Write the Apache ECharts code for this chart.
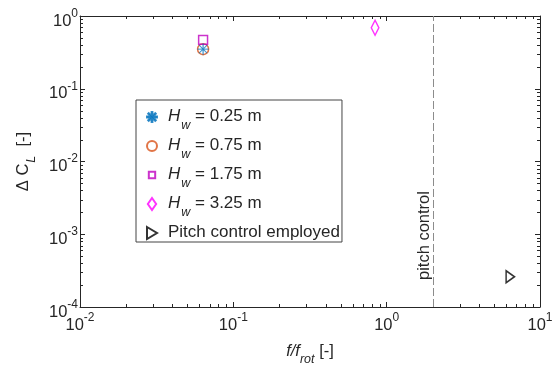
<!DOCTYPE html>
<html>
<head>
<meta charset="utf-8">
<script src="https://cdn.jsdelivr.net/npm/echarts@6/dist/echarts.min.js"></script>
<style>html,body{margin:0;padding:0;background:#fff}#c{width:558px;height:367px}</style>
</head>
<body>
<div id="c"></div>
<script>
// ---- data ----
const seriesNames = ['H_w = 0.25 m', 'H_w = 0.75 m', 'H_w = 1.75 m', 'H_w = 3.25 m', 'Pitch control employed'];
const hw025 = [[0.0635, 0.35]];
const hw075 = [[0.0635, 0.35]];
const hw175 = [[0.0635, 0.47]];
const hw325 = [[0.84, 0.69]];
const pitchEmployed = [[6.4, 2.6e-4]];
const pitchControlX = 2;
const xRange = [0.01, 10];
const yRange = [1e-4, 1];
const pitchLabel = 'pitch control';

// minor tick positions (2..9 within each decade)
function minorTicks(lo, hi) {
  const out = [];
  for (let d = lo; d < hi; d *= 10) {
    for (let k = 2; k <= 9; k++) out.push(+(k * d).toPrecision(3));
  }
  return out;
}
const xMinor = minorTicks(xRange[0], xRange[1]);
const yMinor = minorTicks(yRange[0], yRange[1]);

const TXT = '#262626';
const FONT = 'Liberation Sans';

const asterisk = 'path://M-0.8,-10H0.8V10H-0.8Z M-10,-0.8H10V0.8H-10Z M-7.6,-6.5L-6.5,-7.6L7.6,6.5L6.5,7.6Z M7.6,-6.5L6.5,-7.6L-7.6,6.5L-6.5,7.6Z';
const triRight = 'path://M0,0L10,6L0,12Z';
// square with a little empty margin (zero-length anchors) so the legend icon stays small
const squareSym = 'path://M2,2H9V9H2Z M0,0L0,0 M11,11L11,11';
const diamondSym = 'path://M4.5,0L9,6.5L4.5,13L0,6.5Z';

function powLabel(v) {
  const e = Math.round(Math.log10(v));
  return '{b|10}{s|' + e + '}';
}
const powRich = {
  b: { fontFamily: FONT, fontSize: 16.5, color: TXT, lineHeight: 17, padding: [5, 0, 0, 0], verticalAlign: 'top' },
  s: { fontFamily: FONT, fontSize: 12, color: TXT, lineHeight: 12, verticalAlign: 'top' }
};

const legendRich = {
  i: { fontFamily: FONT, fontSize: 17, fontStyle: 'italic', color: TXT, lineHeight: 18, verticalAlign: 'top' },
  sub: { fontFamily: FONT, fontSize: 12.5, fontStyle: 'italic', color: TXT, lineHeight: 12, padding: [11, 0, 0, 1], verticalAlign: 'top' },
  n: { fontFamily: FONT, fontSize: 17, color: TXT, lineHeight: 18, verticalAlign: 'top' }
};

function minorSeries(values, isX) {
  return {
    type: 'custom',
    silent: true,
    xAxisIndex: 0, yAxisIndex: 0,
    data: values.map(v => isX ? [v, 1e-2] : [1, v]),
    renderItem: function (params, api) {
      const cs = params.coordSys;
      const len = 3;
      const style = { stroke: TXT, lineWidth: 1 };
      if (isX) {
        const x = Math.round(api.coord([api.value(0), 1e-2])[0]) + 0.5;
        return { type: 'group', children: [
          { type: 'line', shape: { x1: x, y1: cs.y + cs.height, x2: x, y2: cs.y + cs.height - len }, style },
          { type: 'line', shape: { x1: x, y1: cs.y, x2: x, y2: cs.y + len }, style }
        ]};
      } else {
        const y = Math.round(api.coord([1, api.value(1)])[1]) + 0.5;
        return { type: 'group', children: [
          { type: 'line', shape: { x1: cs.x, y1: y, x2: cs.x + len, y2: y }, style },
          { type: 'line', shape: { x1: cs.x + cs.width, y1: y, x2: cs.x + cs.width - len, y2: y }, style }
        ]};
      }
    },
    z: 1
  };
}

const chart = echarts.init(document.getElementById('c'), null, { renderer: 'canvas' });
const axisCommon = {
  type: 'log', logBase: 10,
  axisLine: { show: true, lineStyle: { color: TXT, width: 1 } },
  axisTick: { show: true, inside: true, length: 5, lineStyle: { color: TXT } },
  splitLine: { show: false },
  minorTick: { show: false }
};

chart.setOption({
  animation: false,
  backgroundColor: '#fff',
  grid: { left: 80, right: 18, top: 16, bottom: 60, containLabel: false, outerBoundsMode: 'none' },
  xAxis: [
    Object.assign({}, axisCommon, {
      position: 'bottom', min: xRange[0], max: xRange[1],
      axisLabel: { formatter: powLabel, rich: powRich, margin: 5 },
      name: '{fi|f/f}{sub|rot}{n| [-]}', nameLocation: 'middle', nameGap: 36,
      nameTextStyle: { rich: {
        fi: { fontFamily: FONT, fontSize: 16.5, fontStyle: 'italic', color: TXT, lineHeight: 18, verticalAlign: 'top' },
        sub: { fontFamily: FONT, fontSize: 12.5, fontStyle: 'italic', color: TXT, lineHeight: 12, padding: [10, 0, 0, 0], verticalAlign: 'top' },
        n: { fontFamily: FONT, fontSize: 16.5, color: TXT, lineHeight: 18, verticalAlign: 'top' }
      } }
    }),
    Object.assign({}, axisCommon, { position: 'top', min: xRange[0], max: xRange[1], axisLabel: { show: false } })
  ],
  yAxis: [
    Object.assign({}, axisCommon, {
      position: 'left', min: yRange[0], max: yRange[1],
      axisLabel: { formatter: powLabel, rich: powRich, margin: 2 },
      name: '{n|Δ C}{sub|L}{n|  [-]}', nameLocation: 'middle', nameGap: 44, nameRotate: 90,
      nameTextStyle: { rich: {
        n: { fontFamily: FONT, fontSize: 16.5, color: TXT, lineHeight: 18, verticalAlign: 'top' },
        sub: { fontFamily: FONT, fontSize: 12.5, fontStyle: 'italic', color: TXT, lineHeight: 12, padding: [10, 0, 0, 1], verticalAlign: 'top' }
      } }
    }),
    Object.assign({}, axisCommon, { position: 'right', min: yRange[0], max: yRange[1], axisLabel: { show: false } })
  ],
  legend: {
    orient: 'vertical', left: 136, top: 100,
    data: seriesNames,
    backgroundColor: '#fff',
    borderColor: '#444', borderWidth: 1, borderRadius: 0,
    padding: [8, 2, 1, 10],
    itemGap: 5, itemWidth: 10, itemHeight: 12,
    formatter: function (name) {
      if (name.indexOf('H_w') === 0) return '{i|H}{sub|w}{n| ' + name.slice(4) + '}';
      return '{n|' + name + '}';
    },
    textStyle: { rich: legendRich, padding: [0, 0, 0, 6] }
  },
  series: [
    { name: seriesNames[0], type: 'scatter', data: hw025, symbol: asterisk, symbolSize: 11, symbolKeepAspect: true,
      itemStyle: { color: '#0072BD', borderColor: '#0072BD', borderWidth: 0.2 }, z: 5 },
    { name: seriesNames[1], type: 'scatter', data: hw075, symbol: 'circle', symbolSize: 11,
      itemStyle: { color: 'rgba(0,0,0,0)', borderColor: '#D95319', borderWidth: 1.5 }, z: 4 },
    { name: seriesNames[2], type: 'scatter', data: hw175, symbol: squareSym, symbolSize: 14, symbolKeepAspect: true,
      itemStyle: { color: 'rgba(0,0,0,0)', borderColor: '#BF00BF', borderWidth: 1.5 }, z: 4 },
    { name: seriesNames[3], type: 'scatter', data: hw325, symbol: diamondSym, symbolSize: [11, 15], symbolKeepAspect: true,
      itemStyle: { color: 'rgba(0,0,0,0)', borderColor: '#FF00FF', borderWidth: 1.5 }, z: 4 },
    { name: seriesNames[4], type: 'scatter', data: pitchEmployed, symbol: triRight, symbolSize: [10, 12], symbolKeepAspect: true,
      itemStyle: { color: 'rgba(0,0,0,0)', borderColor: '#000', borderWidth: 1.6 }, z: 4,
      markLine: {
        silent: true, symbol: 'none', animation: false,
        lineStyle: { color: '#8c8c8c', type: [8, 3], width: 1 },
        label: { show: true, formatter: pitchLabel, position: 'insideStartTop', distance: [27, 0],
          fontFamily: FONT, fontSize: 16.5, color: TXT },
        data: [{ xAxis: pitchControlX }]
      }
    },
    minorSeries(xMinor, true),
    minorSeries(yMinor, false)
  ]
});
</script>
</body>
</html>
